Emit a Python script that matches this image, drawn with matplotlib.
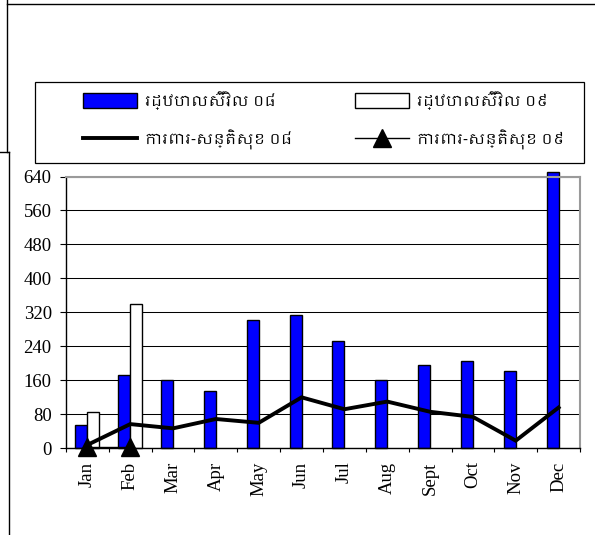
import matplotlib
matplotlib.use("Agg")
import matplotlib.pyplot as plt
from matplotlib import font_manager as fm
from matplotlib.lines import Line2D
import numpy as np

# ---------------- data ----------------
months = ["Jan", "Feb", "Mar", "Apr", "May", "Jun", "Jul", "Aug", "Sept", "Oct", "Nov", "Dec"]
civil_08 = [55, 172, 161, 135, 303, 315, 253, 162, 196, 205, 182, 650]
civil_09 = [85, 339, None, None, None, None, None, None, None, None, None, None]
defense_08 = [8, 57, 47, 69, 60, 120, 92, 110, 86, 74, 18, 96]
defense_09 = [4, 4, None, None, None, None, None, None, None, None, None, None]
yticks = [0, 80, 160, 240, 320, 400, 480, 560, 640]
labels = ["រដ្ឋបាលស៊ីវិល ០៨", "រដ្ឋបាលស៊ីវិល ០៩", "ការពារ-សន្តិសុខ ០៨", "ការពារ-សន្តិសុខ ០៩"]

# --------------- fonts ----------------
def find_khmer_font():
    try:
        from fontTools.ttLib import TTFont
    except Exception:
        return None
    seen = set()
    for fe in fm.fontManager.ttflist:
        if fe.fname in seen:
            continue
        seen.add(fe.fname)
        if "khmer" in fe.name.lower() or "khmer" in fe.fname.lower():
            return fe.name
    for fe in fm.fontManager.ttflist:
        if "CJK" in fe.name:
            continue
        try:
            f = TTFont(fe.fname, fontNumber=0, lazy=True)
            cmap = f.getBestCmap()
            if cmap and 0x179A in cmap and 0x17E0 in cmap:
                return fe.name
        except Exception:
            pass
    return None

kh = find_khmer_font()
legend_family = [kh, "DejaVu Sans"] if kh else ["DejaVu Sans"]
serif = "Liberation Serif"

W, H = 595, 535
fig = plt.figure(figsize=(W / 100, H / 100), dpi=100)
fig.patch.set_facecolor("white")

def fx(px):
    return px / W

def fy(py):
    return 1 - py / H

ax = fig.add_axes([fx(66), fy(448.3), fx(580) - fx(66), fy(176.5) - fy(448.3)])

x = np.arange(len(months))
bw = 0.28
v08 = np.array(civil_08, dtype=float)
v09 = np.array([np.nan if v is None else v for v in civil_09], dtype=float)

b08 = ax.bar(x - bw / 2, v08, width=bw, color="#0000FF", edgecolor="black",
             linewidth=1.0, zorder=2, clip_on=False, label=labels[0])
m09 = ~np.isnan(v09)
b09 = ax.bar(x[m09] + bw / 2, v09[m09], width=bw, color="white", edgecolor="black",
             linewidth=1.0, zorder=2, clip_on=False, label=labels[1])

l08, = ax.plot(x, defense_08, color="black", linewidth=2.8, zorder=3,
               solid_joinstyle="miter", label=labels[2])
d09 = np.array([np.nan if v is None else v for v in defense_09], dtype=float)
l09, = ax.plot(x, d09, color="black", linewidth=1.0, marker="^", markersize=13,
               zorder=4, clip_on=False, label=labels[3])

ax.set_xlim(-0.5, len(months) - 0.5)
ax.set_ylim(0, 640)
ax.set_yticks(yticks)
ax.set_yticklabels([str(t) for t in yticks], fontsize=13.5, family=serif)
ax.set_xticks(x)
ax.set_xticklabels(months, rotation=90, fontsize=13.5, family=serif, va="top", ha="center")
ax.set_xticks(np.arange(-0.5, len(months)), minor=True)
ax.tick_params(axis="x", which="major", length=0, pad=9.5)
ax.tick_params(axis="x", which="minor", length=3.2, width=0.8, direction="out", color="black")
ax.tick_params(axis="y", which="major", length=4.3, width=0.8, direction="out", pad=6, color="black")

ax.grid(axis="y", color="black", linewidth=0.75)
ax.set_axisbelow(True)
for s in ["left", "bottom"]:
    ax.spines[s].set_color("black")
    ax.spines[s].set_linewidth(1.0)
for s in ["top", "right"]:
    ax.spines[s].set_color("#9a9a9a")
    ax.spines[s].set_linewidth(1.5)

# --------------- legend ----------------
fig.add_artist(plt.Rectangle((fx(35), fy(163.3)), fx(584) - fx(35), fy(81.7) - fy(163.3),
                             transform=fig.transFigure, facecolor="white",
                             edgecolor="black", linewidth=0.9, zorder=5))
fs_leg = 11
fs_px = fs_leg * 100 / 72
leg_kw = dict(frameon=False, handlelength=54 / fs_px, handleheight=17 / fs_px,
              handletextpad=8 / fs_px, labelspacing=1.3, borderpad=0, borderaxespad=0,
              loc="upper left", numpoints=1, prop={"family": legend_family, "size": fs_leg})
lg1 = fig.legend([b08, l08], [labels[0], labels[2]], bbox_to_anchor=(fx(83), fy(91)), **leg_kw)
lg2 = fig.legend([b09, l09], [labels[1], labels[3]], bbox_to_anchor=(fx(355), fy(91)), **leg_kw)
lg1.set_zorder(6)
lg2.set_zorder(6)

# --------------- outer page lines ----------------
for (xs, ys) in [((7, 595), (4, 4)), ((7, 7), (0, 152)), ((0, 9), (152, 152)), ((9, 9), (152, 535))]:
    fig.add_artist(Line2D([fx(xs[0]), fx(xs[1])], [fy(ys[0]), fy(ys[1])],
                          transform=fig.transFigure, color="black", linewidth=1.0))

fig.savefig("out.png", dpi=100)
